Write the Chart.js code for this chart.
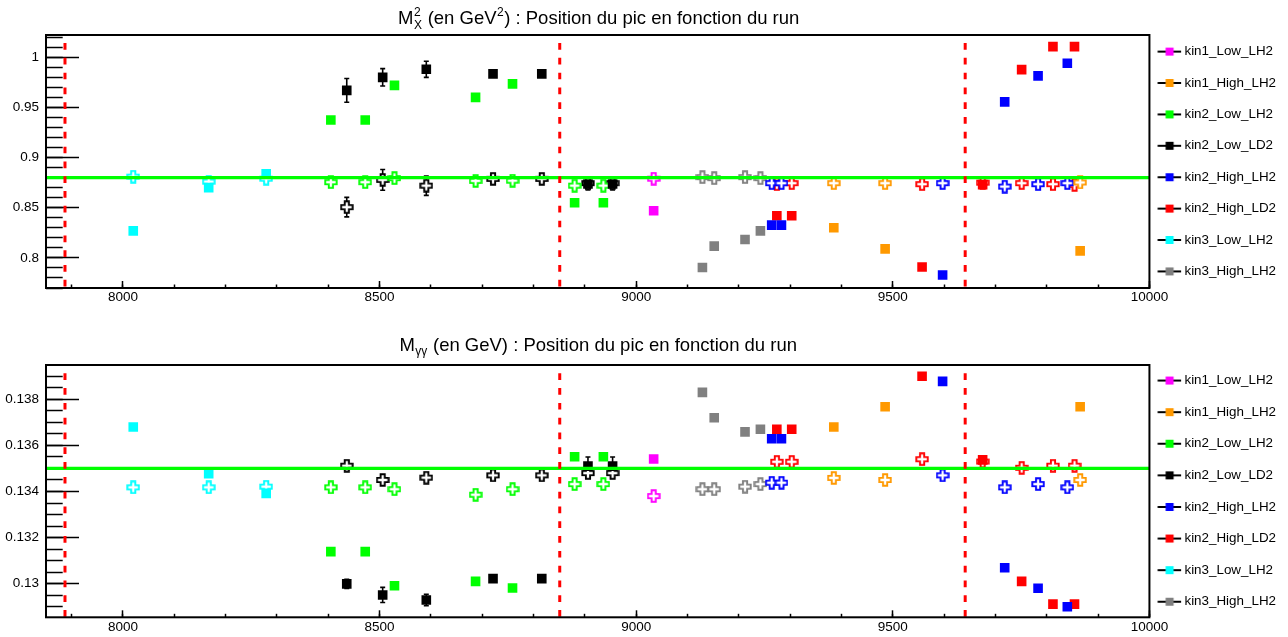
<!DOCTYPE html>
<html>
<head>
<meta charset="utf-8">
<script src="https://cdn.jsdelivr.net/npm/chart.js@4.4.0/dist/chart.umd.min.js"></script>
<style>
  html, body { margin: 0; padding: 0; background: #fff; }
  canvas { display: block; }
</style>
</head>
<body>
<canvas id="haut" width="1288" height="318"></canvas>
<canvas id="bas" width="1288" height="319"></canvas>
<script>
// --- donnees ---
const series = ['kin1_Low_LH2', 'kin1_High_LH2', 'kin2_Low_LH2', 'kin2_Low_LD2', 'kin2_High_LH2', 'kin2_High_LD2', 'kin3_Low_LH2', 'kin3_High_LH2'];
const runs = [
  [9034],
  [9385, 9485, 9865],
  [8405, 8472, 8529, 8687, 8759, 8880, 8936],
  [8436, 8506, 8591, 8721, 8816, 8906, 8954],
  [9264, 9283, 9597, 9718, 9783, 9840],
  [9274, 9303, 9557, 9675, 9751, 9812, 9854],
  [8020, 8167, 8279],
  [9129, 9152, 9212, 9242]
];
// M_X^2 : carres pleins / croix creuses
const mx2Plein = [
  [0.847],
  [0.830, 0.809, 0.807],
  [0.9375, 0.9375, 0.972, 0.960, 0.9735, 0.855, 0.855],
  [0.967, 0.980, 0.988, 0.9835, 0.9835, 0.8737, 0.8737],
  [0.8327, 0.8327, 0.783, 0.9555, 0.9814, 0.994],
  [0.842, 0.842, 0.791, 0.873, 0.9877, 1.0106, 1.0106],
  [0.827, 0.870, 0.8838],
  [0.7904, 0.8117, 0.8183, 0.827]
];
const mx2Creux = [
  [0.879],
  [0.8745, 0.8745, 0.8752],
  [0.8755, 0.8755, 0.8795, 0.8768, 0.877, 0.872, 0.872],
  [0.8506, 0.8778, 0.872, 0.8788, 0.8788, 0.8745, 0.8745],
  [0.8745, 0.8745, 0.8745, 0.8711, 0.8735, 0.8745],
  [0.8735, 0.8745, 0.8735, 0.875, 0.8745, 0.8735, 0.8728],
  [0.881, 0.876, 0.879],
  [0.8805, 0.8795, 0.8805, 0.8795]
];
// M_gg
const mggPlein = [
  [0.13541],
  [0.13680, 0.13768, 0.13768],
  [0.13139, 0.13139, 0.12991, 0.13010, 0.12981, 0.13551, 0.13551],
  [0.12999, 0.12951, 0.12929, 0.13022, 0.13022, 0.1351, 0.1351],
  [0.13629, 0.13629, 0.13878, 0.13069, 0.12980, 0.12900],
  [0.13670, 0.13670, 0.13900, 0.13537, 0.13010, 0.12911, 0.12911],
  [0.13680, 0.13477, 0.13392],
  [0.13830, 0.13720, 0.13659, 0.13670]
];
const mggCreux = [
  [0.13380],
  [0.13459, 0.13450, 0.13450],
  [0.13418, 0.13418, 0.13410, 0.13386, 0.13410, 0.13432, 0.13432],
  [0.13512, 0.13450, 0.13460, 0.13470, 0.13470, 0.1348, 0.1348],
  [0.13438, 0.13438, 0.13470, 0.13418, 0.13432, 0.13418],
  [0.13529, 0.13529, 0.13540, 0.1353, 0.13503, 0.13512, 0.13512],
  [0.13418, 0.13418, 0.13421],
  [0.13410, 0.13410, 0.13421, 0.13432]
];
// barres d'erreur visibles (kin2_Low_LD2)
const errMx2Plein = [0.0118, 0.0087, 0.008, 0.003, 0.003, 0.006, 0.006];
const errMx2Creux = [0.0097, 0.0103, 0.0097, 0.004, 0.003, 0.004, 0.003];
const errMggPlein = [0.0002, 0.00033, 0.00025, 0.0001, 0.0001, 0.0004, 0.0004];
const errMggCreux = [0.0002, 0.0001, 0.0001, 0.0001, 0.0001, 0.0002, 0.0002];

const changementsPeriode = [7887, 8851, 9641];
const picMx2 = 0.88;
const picMgg = 0.135;
const xTicks = [8000, 8500, 9000, 9500, 10000];
const yTicksMx2 = [0.8, 0.85, 0.9, 0.95, 1];
const yTicksMgg = [0.13, 0.132, 0.134, 0.136, 0.138];

const couleurs = ['#ff00ff', '#ff9900', '#00ff00', '#000000', '#0000ff', '#ff0000', '#00ffff', '#808080'];
const police = '"Liberation Sans", Arial, Helvetica, sans-serif';
Chart.defaults.font.family = police;
Chart.defaults.color = '#000';

const tailleLegende = 13.4;
const ecartLegende = 7;

function croix(couleur) {
  const c = document.createElement('canvas');
  c.width = 14; c.height = 14;
  const g = c.getContext('2d');
  const m = 7, s = 5.7, a = 2.1;
  g.beginPath();
  g.moveTo(m - a, m - s); g.lineTo(m + a, m - s); g.lineTo(m + a, m - a); g.lineTo(m + s, m - a);
  g.lineTo(m + s, m + a); g.lineTo(m + a, m + a); g.lineTo(m + a, m + s); g.lineTo(m - a, m + s);
  g.lineTo(m - a, m + a); g.lineTo(m - s, m + a); g.lineTo(m - s, m - a); g.lineTo(m - a, m - a);
  g.closePath();
  g.fillStyle = '#fff';
  g.fill();
  g.lineWidth = 1.9;
  g.strokeStyle = couleur;
  g.stroke();
  return c;
}

// trait noir + carre de couleur, decale pour tomber sous le texte comme dans ROOT
function repereLegende(couleur) {
  const c = document.createElement('canvas');
  c.width = 40; c.height = 12;
  const g = c.getContext('2d');
  g.strokeStyle = '#000';
  g.lineWidth = 2;
  g.beginPath(); g.moveTo(10.5, 6); g.lineTo(34, 6); g.stroke();
  g.fillStyle = couleur;
  g.fillRect(18.5, 2, 8, 8);
  return c;
}

const croixImg = couleurs.map(croix);
const legendeImg = couleurs.map(repereLegende);

// titre facon ROOT avec indices / exposants
const titreRoot = {
  id: 'titreRoot',
  afterDraw(chart, args, opts) {
    const ctx = chart.ctx;
    const grand = '18.5px ' + police, petit = '12px ' + police;
    const largeurs = opts.pieces.map(p => {
      if (p.t) { ctx.font = grand; return ctx.measureText(p.t).width; }
      ctx.font = petit;
      return Math.max(p.sup ? ctx.measureText(p.sup).width : 0, p.sub ? ctx.measureText(p.sub).width : 0);
    });
    const total = largeurs.reduce((a, b) => a + b, 0);
    const ca = chart.chartArea;
    let x = (ca.left + ca.right) / 2 - total / 2;
    ctx.save();
    ctx.fillStyle = '#000';
    ctx.textBaseline = 'alphabetic';
    ctx.textAlign = 'left';
    opts.pieces.forEach((p, i) => {
      if (p.t) { ctx.font = grand; ctx.fillText(p.t, x, opts.y); }
      else {
        ctx.font = petit;
        if (p.sup) ctx.fillText(p.sup, x + 0.5, opts.y - 8);
        if (p.sub) ctx.fillText(p.sub, x + 0.5, opts.y + 4.5);
      }
      x += largeurs[i] + (p.t ? 0 : 1);
    });
    ctx.restore();
  }
};

const cadre = {
  id: 'cadre',
  afterDatasetsDraw(chart) {
    const ca = chart.chartArea, ctx = chart.ctx;
    ctx.save();
    ctx.strokeStyle = '#000';
    ctx.lineWidth = 2;
    ctx.strokeRect(ca.left, ca.top, ca.right - ca.left, ca.bottom - ca.top);
    ctx.restore();
  }
};

const barresErreur = {
  id: 'barresErreur',
  beforeDatasetsDraw(chart, args, opts) {
    const ctx = chart.ctx, sx = chart.scales.x, sy = chart.scales.y;
    ctx.save();
    ctx.strokeStyle = '#000';
    ctx.lineWidth = 1.6;
    opts.points.forEach(p => {
      const px = sx.getPixelForValue(p.x);
      const y1 = sy.getPixelForValue(p.y - p.e), y2 = sy.getPixelForValue(p.y + p.e);
      ctx.beginPath();
      ctx.moveTo(px, y1); ctx.lineTo(px, y2);
      ctx.moveTo(px - 2.5, y1); ctx.lineTo(px + 2.5, y1);
      ctx.moveTo(px - 2.5, y2); ctx.lineTo(px + 2.5, y2);
      ctx.stroke();
    });
    ctx.restore();
  }
};

function sansMarge(s) {
  s.paddingTop = 0; s.paddingBottom = 0; s.paddingLeft = 0; s.paddingRight = 0;
}

function construire(id, cfg) {
  const jeux = [];
  series.forEach((nom, i) => {
    jeux.push({
      label: nom,
      data: runs[i].map((r, k) => ({ x: r, y: cfg.plein[i][k] })),
      pointStyle: 'rect', pointRadius: 6.8, borderWidth: 0,
      backgroundColor: couleurs[i], borderColor: couleurs[i], order: 2
    });
  });
  series.forEach((nom, i) => {
    jeux.push({
      label: nom + ' ',
      data: runs[i].map((r, k) => ({ x: r, y: cfg.creux[i][k] })),
      pointStyle: croixImg[i], pointRadius: 7, borderWidth: 0,
      backgroundColor: couleurs[i], borderColor: couleurs[i], order: 3
    });
  });
  jeux.push({
    label: 'pic',
    data: [{ x: 7850, y: cfg.pic }, { x: 10000, y: cfg.pic }],
    showLine: true, borderColor: '#00ff00', borderWidth: 3.2, pointRadius: 0, order: 1
  });
  changementsPeriode.forEach(b => {
    jeux.push({
      label: 'periode',
      data: [{ x: b, y: cfg.hautTirets }, { x: b, y: cfg.yMin }],
      showLine: true, borderColor: '#ff0000', borderWidth: 3, borderDash: [6.7, 8.1],
      pointRadius: 0, order: 0
    });
  });

  const erreurs = [];
  runs[3].forEach((r, k) => {
    erreurs.push({ x: r, y: cfg.plein[3][k], e: cfg.errPlein[k] });
    erreurs.push({ x: r, y: cfg.creux[3][k], e: cfg.errCreux[k] });
  });

  const hauteurLigne = (cfg.pasLegende - ecartLegende) / tailleLegende;

  return new Chart(document.getElementById(id).getContext('2d'), {
    type: 'scatter',
    data: { datasets: jeux },
    options: {
      responsive: false,
      animation: false,
      events: [],
      devicePixelRatio: 1,
      layout: { padding: { top: cfg.padHaut, right: 2, bottom: 0, left: 0 } },
      plugins: {
        tooltip: { enabled: false },
        legend: {
          position: 'right',
          fullSize: false,
          align: 'center',
          labels: {
            usePointStyle: true,
            pointStyleWidth: 21.3,
            padding: ecartLegende,
            color: '#000',
            font: { size: tailleLegende, family: police, lineHeight: hauteurLigne },
            // texte en tableau = hauteur de ligne propre, pour garder une seule colonne
            generateLabels: () => series.map((nom, i) => ({
              text: i < series.length - 1 ? [nom] : nom,
              pointStyle: legendeImg[i], datasetIndex: i,
              fillStyle: couleurs[i], strokeStyle: couleurs[i], lineWidth: 0, fontColor: '#000', hidden: false
            }))
          }
        },
        titreRoot: { pieces: cfg.titre, y: cfg.ligneTitre },
        barresErreur: { points: erreurs }
      },
      scales: {
        x: {
          type: 'linear', position: 'bottom', weight: 1, min: 7850, max: 10000,
          afterBuildTicks: s => { s.ticks = xTicks.map(v => ({ value: v })); },
          afterFit: s => { s.height = cfg.hauteurX; sansMarge(s); },
          ticks: { callback: v => String(v), autoSkip: false, maxRotation: 0, padding: 8.5, color: '#000', font: { size: 13.5 } },
          grid: { drawOnChartArea: false, tickLength: -7, tickColor: '#000', tickWidth: 1.5 },
          border: { display: false }
        },
        xMineur: {
          type: 'linear', position: 'bottom', weight: 0, min: 7850, max: 10000,
          afterFit: s => { s.height = 0; sansMarge(s); },
          ticks: { display: false, stepSize: 100, includeBounds: false },
          grid: { drawOnChartArea: false, tickLength: -3.5, tickColor: '#000', tickWidth: 1.5 },
          border: { display: false }
        },
        y: {
          type: 'linear', position: 'left', weight: 1, min: cfg.yMin, max: cfg.yMax,
          afterBuildTicks: s => { s.ticks = cfg.yTicks.map(v => ({ value: v })); },
          afterFit: s => { s.width = 46; sansMarge(s); },
          ticks: { callback: v => String(+v.toFixed(4)), autoSkip: false, padding: 40, color: '#000', font: { size: 13.5 } },
          grid: { drawOnChartArea: false, tickLength: -33, tickColor: '#000', tickWidth: 1.5 },
          border: { display: false }
        },
        yMineur: {
          type: 'linear', position: 'left', weight: 0, min: cfg.yMin, max: cfg.yMax,
          afterFit: s => { s.width = 0; sansMarge(s); },
          ticks: { display: false, stepSize: cfg.pasMineur, includeBounds: false },
          grid: { drawOnChartArea: false, tickLength: -16.7, tickColor: '#000', tickWidth: 1.5 },
          border: { display: false }
        }
      }
    },
    plugins: [barresErreur, cadre, titreRoot]
  });
}

construire('haut', {
  plein: mx2Plein, creux: mx2Creux, errPlein: errMx2Plein, errCreux: errMx2Creux,
  pic: picMx2, yMin: 0.77, yMax: 1.0222, hautTirets: 1.0142, yTicks: yTicksMx2, pasMineur: 0.01,
  padHaut: 35, hauteurX: 30, ligneTitre: 24, pasLegende: 31.4,
  titre: [{ t: 'M' }, { sup: '2', sub: 'X' }, { t: ' (en GeV' }, { sup: '2' }, { t: ') : Position du pic en fonction du run' }]
});

construire('bas', {
  plein: mggPlein, creux: mggCreux, errPlein: errMggPlein, errCreux: errMggCreux,
  pic: picMgg, yMin: 0.12854, yMax: 0.13949, hautTirets: 0.13913, yTicks: yTicksMgg, pasMineur: 0.0005,
  padHaut: 47, hauteurX: 19.7, ligneTitre: 32.7, pasLegende: 31.6,
  titre: [{ t: 'M' }, { sub: 'γγ' }, { t: ' (en GeV) : Position du pic en fonction du run' }]
});
</script>
</body>
</html>
